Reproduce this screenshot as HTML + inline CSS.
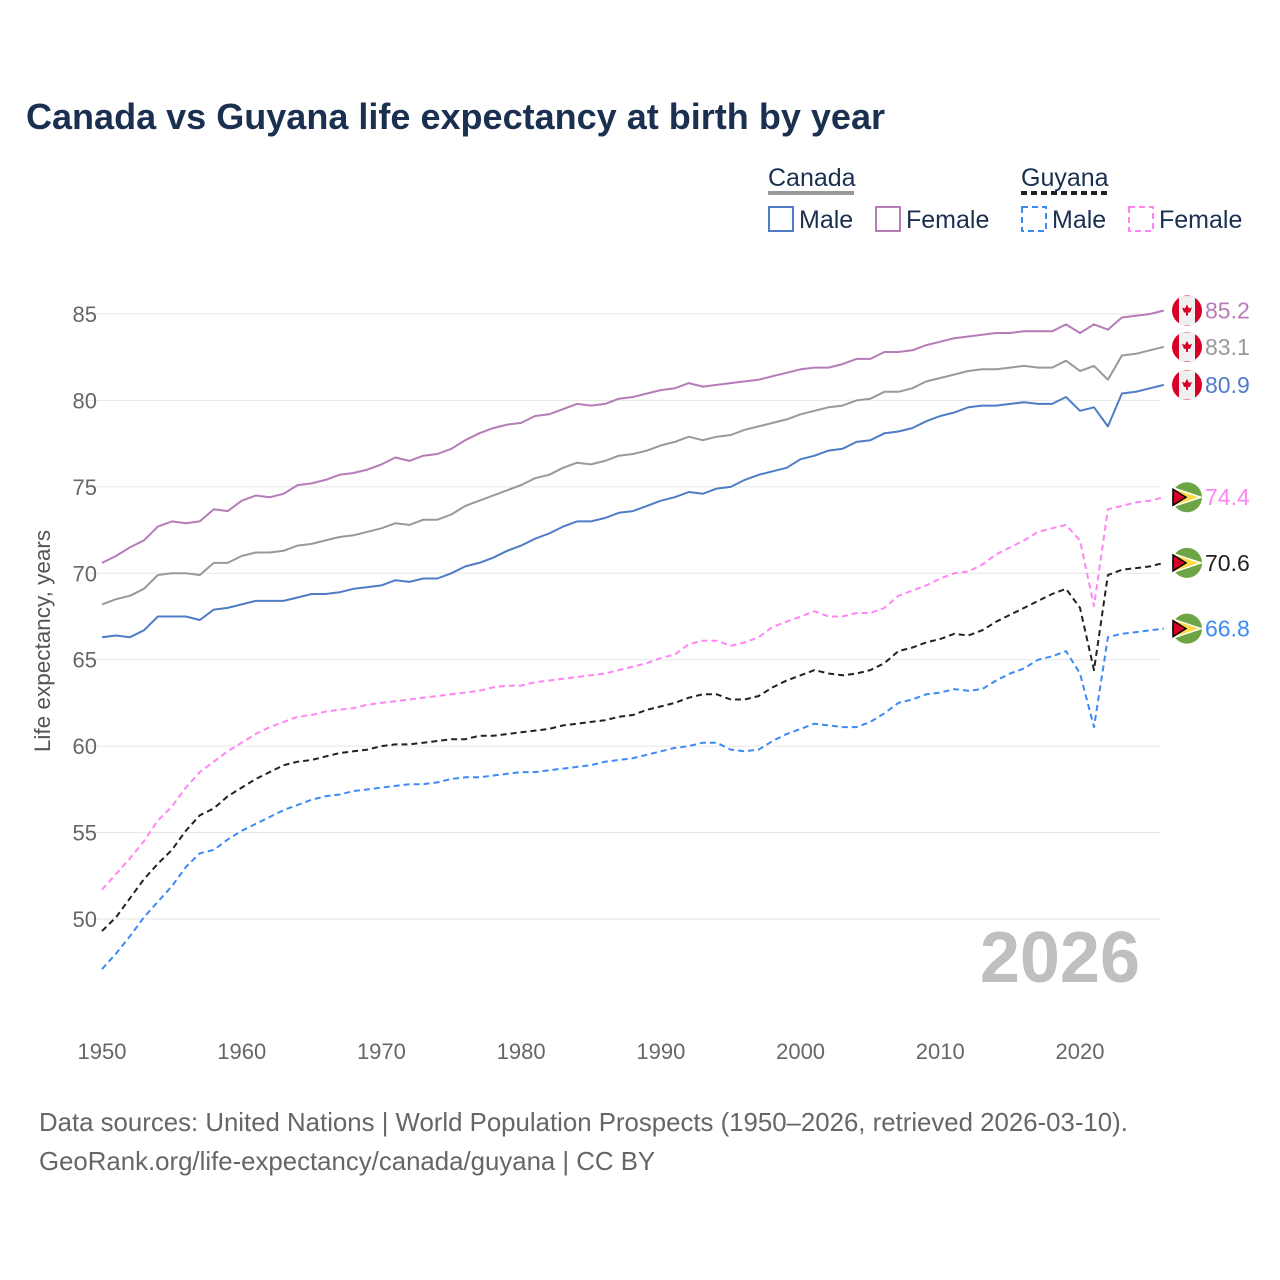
<!DOCTYPE html>
<html><head><meta charset="utf-8"><style>
body{margin:0;background:#fff;font-family:"Liberation Sans",sans-serif}
svg{display:block}
</style></head><body>
<svg id="chart" width="1280" height="1280" viewBox="0 0 1280 1280">
<text x="26" y="129" font-size="36" font-weight="bold" fill="#1b3050" textLength="859" lengthAdjust="spacingAndGlyphs">Canada vs Guyana life expectancy at birth by year</text>
<g font-size="25" fill="#1b3050">
 <text x="768" y="186">Canada</text>
 <line x1="768" y1="193" x2="854" y2="193" stroke="#999" stroke-width="4"/>
 <text x="1021" y="186">Guyana</text>
 <line x1="1021" y1="193" x2="1108" y2="193" stroke="#222" stroke-width="4" stroke-dasharray="6,4"/>
 <rect x="769" y="207" width="24" height="24" fill="none" stroke="#4e7cc6" stroke-width="2"/>
 <text x="799" y="228">Male</text>
 <rect x="876" y="207" width="24" height="24" fill="none" stroke="#b57cb8" stroke-width="2"/>
 <text x="906" y="228">Female</text>
 <rect x="1022" y="207" width="24" height="24" fill="none" stroke="#3d8af7" stroke-width="2" stroke-dasharray="6,4"/>
 <text x="1052" y="228">Male</text>
 <rect x="1129" y="207" width="24" height="24" fill="none" stroke="#ff85f5" stroke-width="2" stroke-dasharray="6,4"/>
 <text x="1159" y="228">Female</text>
</g>
<text transform="translate(50,641) rotate(-90)" text-anchor="middle" font-size="22.5" fill="#555">Life expectancy, years</text>
<text x="1140" y="982" text-anchor="end" font-size="72" font-weight="bold" fill="#bfbfbf">2026</text>
<g id="grid"></g><g id="lines"></g><g id="ends"></g>
<text x="39" y="1131" font-size="25.8" fill="#666">Data sources: United Nations | World Population Prospects (1950–2026, retrieved 2026-03-10).</text>
<text x="39" y="1170" font-size="25.8" fill="#666">GeoRank.org/life-expectancy/canada/guyana | CC BY</text>
</svg>
<script>
const years=[];for(let y=1950;y<=2026;y++)years.push(y);
const yTicks=[50,55,60,65,70,75,80,85];
const xTicks=[1950,1960,1970,1980,1990,2000,2010,2020];
const canadaFemale=[70.6,71.0,71.5,71.9,72.7,73.0,72.9,73.0,73.7,73.6,74.2,74.5,74.4,74.6,75.1,75.2,75.4,75.7,75.8,76.0,76.3,76.7,76.5,76.8,76.9,77.2,77.7,78.1,78.4,78.6,78.7,79.1,79.2,79.5,79.8,79.7,79.8,80.1,80.2,80.4,80.6,80.7,81.0,80.8,80.9,81.0,81.1,81.2,81.4,81.6,81.8,81.9,81.9,82.1,82.4,82.4,82.8,82.8,82.9,83.2,83.4,83.6,83.7,83.8,83.9,83.9,84.0,84.0,84.0,84.4,83.9,84.4,84.1,84.8,84.9,85.0,85.2];
const canadaTotal=[68.2,68.5,68.7,69.1,69.9,70.0,70.0,69.9,70.6,70.6,71.0,71.2,71.2,71.3,71.6,71.7,71.9,72.1,72.2,72.4,72.6,72.9,72.8,73.1,73.1,73.4,73.9,74.2,74.5,74.8,75.1,75.5,75.7,76.1,76.4,76.3,76.5,76.8,76.9,77.1,77.4,77.6,77.9,77.7,77.9,78.0,78.3,78.5,78.7,78.9,79.2,79.4,79.6,79.7,80.0,80.1,80.5,80.5,80.7,81.1,81.3,81.5,81.7,81.8,81.8,81.9,82.0,81.9,81.9,82.3,81.7,82.0,81.2,82.6,82.7,82.9,83.1];
const canadaMale=[66.3,66.4,66.3,66.7,67.5,67.5,67.5,67.3,67.9,68.0,68.2,68.4,68.4,68.4,68.6,68.8,68.8,68.9,69.1,69.2,69.3,69.6,69.5,69.7,69.7,70.0,70.4,70.6,70.9,71.3,71.6,72.0,72.3,72.7,73.0,73.0,73.2,73.5,73.6,73.9,74.2,74.4,74.7,74.6,74.9,75.0,75.4,75.7,75.9,76.1,76.6,76.8,77.1,77.2,77.6,77.7,78.1,78.2,78.4,78.8,79.1,79.3,79.6,79.7,79.7,79.8,79.9,79.8,79.8,80.2,79.4,79.6,78.5,80.4,80.5,80.7,80.9];
const guyanaFemale=[51.7,52.6,53.5,54.5,55.7,56.5,57.6,58.5,59.1,59.7,60.2,60.7,61.1,61.4,61.7,61.8,62.0,62.1,62.2,62.4,62.5,62.6,62.7,62.8,62.9,63.0,63.1,63.2,63.4,63.5,63.5,63.7,63.8,63.9,64.0,64.1,64.2,64.4,64.6,64.8,65.1,65.3,65.9,66.1,66.1,65.8,66.0,66.3,66.9,67.2,67.5,67.8,67.5,67.5,67.7,67.7,68.0,68.7,69.0,69.3,69.7,70.0,70.1,70.5,71.1,71.5,71.9,72.4,72.6,72.8,71.9,68.1,73.7,73.9,74.1,74.2,74.4];
const guyanaTotal=[49.3,50.1,51.2,52.3,53.2,54.0,55.1,56.0,56.4,57.1,57.6,58.1,58.5,58.9,59.1,59.2,59.4,59.6,59.7,59.8,60.0,60.1,60.1,60.2,60.3,60.4,60.4,60.6,60.6,60.7,60.8,60.9,61.0,61.2,61.3,61.4,61.5,61.7,61.8,62.1,62.3,62.5,62.8,63.0,63.0,62.7,62.7,62.9,63.4,63.8,64.1,64.4,64.2,64.1,64.2,64.4,64.8,65.5,65.7,66.0,66.2,66.5,66.4,66.7,67.2,67.6,68.0,68.4,68.8,69.1,68.0,64.4,69.9,70.2,70.3,70.4,70.6];
const guyanaMale=[47.1,48.0,49.0,50.1,51.0,51.9,53.0,53.8,54.0,54.6,55.1,55.5,55.9,56.3,56.6,56.9,57.1,57.2,57.4,57.5,57.6,57.7,57.8,57.8,57.9,58.1,58.2,58.2,58.3,58.4,58.5,58.5,58.6,58.7,58.8,58.9,59.1,59.2,59.3,59.5,59.7,59.9,60.0,60.2,60.2,59.8,59.7,59.8,60.3,60.7,61.0,61.3,61.2,61.1,61.1,61.4,61.9,62.5,62.7,63.0,63.1,63.3,63.2,63.3,63.8,64.2,64.5,65.0,65.2,65.5,64.2,61.1,66.3,66.5,66.6,66.7,66.8];
const NS="http://www.w3.org/2000/svg";
const X=y=>102+(y-1950)*(1080-102)/70;
const Y=v=>314+(85-v)*(919-314)/35;
function mk(tag,attrs,parent){const e=document.createElementNS(NS,tag);for(const k in attrs)e.setAttribute(k,attrs[k]);parent.appendChild(e);return e;}
const grid=document.getElementById('grid');
yTicks.forEach(t=>{
 const l=mk('line',{x1:88,x2:1160,y1:Y(t),y2:Y(t),stroke:'#e6e6e6','stroke-width':1},grid);
 
 
 const tx=mk('text',{x:97,y:Y(t)+8,'text-anchor':'end','font-size':22,fill:'#666'},grid);
 tx.textContent=t;
 
 
});
xTicks.forEach(t=>{
 const tx=mk('text',{x:X(t),y:1059,'text-anchor':'middle','font-size':22,fill:'#666'},grid);
 tx.textContent=t;
 
 
});
const series=[
 {n:'canada-female',d:canadaFemale,c:'#b57cb8',dash:null,lc:'#b57cb8',flag:'ca'},
 {n:'canada-total',d:canadaTotal,c:'#999999',dash:null,lc:'#999999',flag:'ca'},
 {n:'canada-male',d:canadaMale,c:'#4e7cc6',dash:null,lc:'#4e7cc6',flag:'ca'},
 {n:'guyana-female',d:guyanaFemale,c:'#ff85f5',dash:'6,4',lc:'#ff85f5',flag:'gy'},
 {n:'guyana-total',d:guyanaTotal,c:'#222222',dash:'6,4',lc:'#222222',flag:'gy'},
 {n:'guyana-male',d:guyanaMale,c:'#3d8af7',dash:'6,4',lc:'#3d8af7',flag:'gy'}
];
const lines=document.getElementById('lines'),ends=document.getElementById('ends');
series.forEach(s=>{
 const pts=s.d.map((v,i)=>X(years[i]).toFixed(1)+','+Y(v).toFixed(1)).join(' ');
 const a={points:pts,fill:'none',stroke:s.c,'stroke-width':2,'stroke-linejoin':'round'};
 if(s.dash)a['stroke-dasharray']=s.dash;
 const p=mk('polyline',a,lines);
 
 
 const last=s.d[s.d.length-1],ly=Y(last),cx=1187;
 const g=mk('g',{},ends);
 
 
 if(s.flag==='ca'){
  mk('circle',{cx:cx,cy:ly,r:15,fill:'#d80027'},g);
  mk('rect',{x:cx-8,y:ly-14.5,width:16,height:29,fill:'#f0f0f0'},g);
  mk('path',{d:`M${cx} ${ly-6}L${cx+2} ${ly-2}L${cx+5} ${ly-3}L${cx+3} ${ly+2}L${cx+1} ${ly+2}L${cx+1} ${ly+5}L${cx-1} ${ly+5}L${cx-1} ${ly+2}L${cx-3} ${ly+2}L${cx-5} ${ly-3}L${cx-2} ${ly-2}Z`,fill:'#d80027'},g);
 }else{
  mk('circle',{cx:cx,cy:ly,r:15,fill:'#6da544'},g);
  mk('path',{d:`M${cx-13} ${ly-9}L${cx+14} ${ly}L${cx-13} ${ly+9}Z`,fill:'#ffda44',stroke:'#fff','stroke-width':1.5},g);
  mk('path',{d:`M${cx-14} ${ly-8}L${cx-1} ${ly}L${cx-14} ${ly+8}Z`,fill:'#d80027',stroke:'#000','stroke-width':1.5},g);
 }
 const t=mk('text',{x:1205,y:ly+8,'font-size':23,fill:s.lc},ends);
 t.textContent=last.toFixed(1);
 
 
});
</script>
</body></html>
